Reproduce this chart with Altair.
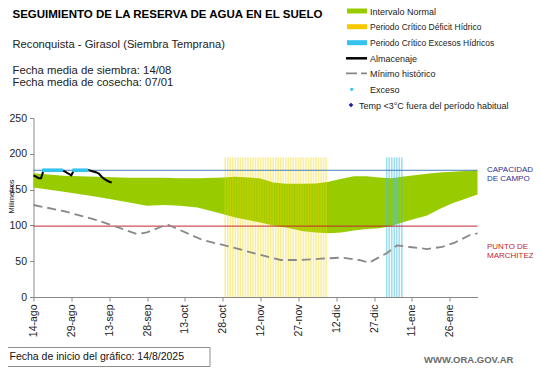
import altair as alt
import pandas as pd

# ---------------- data ----------------
tick_days = [0, 15, 30, 45, 60, 75, 90, 105, 120, 135, 150, 165]
tick_labels = ["14-ago", "29-ago", "13-sep", "28-sep", "13-oct", "28-oct",
               "12-nov", "27-nov", "12-dic", "27-dic", "11-ene", "26-ene"]
y_ticks = [0, 50, 100, 150, 200, 250]

# Intervalo normal (days since 14/08/2025)
band_day = [0, 12, 25, 38, 45, 52, 58, 65, 75, 80, 85, 90, 95, 100, 107, 112,
            117, 122, 127, 132, 137, 142, 146, 151, 156, 161, 166, 171, 176]
band_upper = [173, 169.5, 168, 166.5, 166.5, 166.5, 166, 166, 167, 168, 167,
              165.5, 160, 158, 158, 158.5, 161, 165, 168.5, 168.5, 167, 166,
              168, 170, 172, 174, 175, 176, 177]
band_lower = [153, 147, 140, 132, 127.6, 128.5, 127.6, 125, 116, 111, 107.5,
              104, 100, 97, 92, 90, 89, 90, 93, 95, 96, 99, 104, 109, 114, 123,
              131, 137, 143]

# Minimo historico
min_day = [0, 12, 25, 32, 41, 45, 53, 58, 67, 78, 89, 98, 106, 114, 122, 129,
           133, 140, 144, 150, 156, 162, 167, 173, 176]
min_val = [128.5, 120, 107.5, 99, 88, 90.3, 101.5, 93.6, 79.6, 70.3, 59.6,
           51.7, 51.7, 53.5, 55, 51.7, 48, 61, 72, 69.5, 67, 70, 76, 86.6, 89]

# Almacenaje
alm_day = list(range(0, 32))
alm_val = [170, 168, 166, 166, 177, 177, 177, 177, 177, 177, 177, 177, 176,
           174, 172, 170, 177, 177, 177, 177, 177, 177, 177, 176, 175, 174,
           172, 168, 165, 163, 161, 160]

# Exceso
exc_day = [4, 5, 6, 7, 8, 9, 10, 11, 16, 17, 18, 19, 20, 21]
exc_val = [177] * len(exc_day)

# Periodos criticos (daily bars)
deficit_days = list(range(76, 117))
exceso_days = list(range(140, 147))
bar_top = 195

capacidad = 177
marchitez = 99

# ---------------- layout constants ----------------
FONT = "Liberation Sans"
OX, OY = 33.5, 118      # page position of plot origin
W, H = 444, 179
TOTAL_W, TOTAL_H = 525, 360

band = pd.DataFrame({"d": band_day, "up": band_upper, "lo": band_lower})
mins = pd.DataFrame({"d": min_day, "v": min_val})
alm = pd.DataFrame({"d": alm_day, "v": alm_val})
exc = pd.DataFrame({"d": exc_day, "v": exc_val})
defi = pd.DataFrame({"d": deficit_days, "v": [bar_top] * len(deficit_days), "z": 0})
exce = pd.DataFrame({"d": exceso_days, "v": [bar_top] * len(exceso_days), "z": 0})
capdf = pd.DataFrame({"cap": [capacidad]})
mardf = pd.DataFrame({"mar": [marchitez]})
one = pd.DataFrame({"a": [0]})

label_js = "[" + ",".join("'" + s + "'" for s in tick_labels) + "]"

xs = alt.Scale(domain=[0, 176], nice=False, zero=False)
ys = alt.Scale(domain=[0, 250], nice=False)

xaxis = alt.Axis(values=tick_days, labelExpr=label_js + "[round(datum.value/15)]",
                 labelAngle=270, labelFontSize=10.5, labelFont=FONT,
                 labelColor="#222222", tickSize=4, tickColor="#888888",
                 domainColor="#888888", labelPadding=3, grid=False, title=None,
                 labelOverlap=False)
yaxis = alt.Axis(values=y_ticks, labelFontSize=10.5, labelOverlap=False,
                 labelFont=FONT, labelColor="#222222", tickSize=4,
                 tickColor="#888888", domainColor="#888888", labelPadding=3,
                 grid=False, title="Milimetros", titleFontSize=7.5,
                 titleFont=FONT, titleFontWeight="normal", titleColor="#222222",
                 titleX=-22, titleY=78, titleAngle=270, titleAlign="center",
                 titleBaseline="middle", labelFlush=False)


def XE(f="d"):
    return alt.X(f + ":Q", scale=xs, axis=xaxis)


def YE(f="v"):
    return alt.Y(f + ":Q", scale=ys, axis=yaxis)


area = alt.Chart(band).mark_area(color="#99CC00", opacity=1).encode(
    x=XE(), y=YE("up"), y2="lo:Q")

ybars = alt.Chart(defi).mark_rule(color="#F2D400", opacity=0.4, strokeWidth=1.6).encode(
    x=XE(), y=YE(), y2="z:Q")
cbars = alt.Chart(exce).mark_rule(color="#3FBFE6", opacity=0.5, strokeWidth=1.6).encode(
    x=XE(), y=YE(), y2="z:Q")

cap = alt.Chart(capdf).mark_rule(stroke="#4A7EBB", color="#4A7EBB", strokeWidth=1).encode(y=YE("cap"))
mar = alt.Chart(mardf).mark_rule(stroke="#C0282D", color="#C0282D", strokeWidth=1).encode(y=YE("mar"))

minl = alt.Chart(mins).mark_line(color="#888888", strokeWidth=1.8,
                                 strokeDash=[9, 5]).encode(x=XE(), y=YE())
alml = alt.Chart(alm).mark_line(color="#000000", strokeWidth=2).encode(x=XE(), y=YE())
exl = alt.Chart(exc).mark_circle(color="#33C3EE", size=16, opacity=1).encode(x=XE(), y=YE())


def T(txt, x, y, size=9, color="#222222", weight="normal", align="left", font=FONT):
    return alt.Chart(one).mark_text(align=align, baseline="middle", fontSize=size,
                                    color=color, fontWeight=weight, font=font, text=txt).encode(
        x=alt.value(x - OX), y=alt.value(y - OY))


def R(x1, x2, y, color, width, dash=None):
    kw = dict(color=color, strokeWidth=width)
    if dash:
        kw["strokeDash"] = dash
    return alt.Chart(one).mark_rule(**kw).encode(
        x=alt.value(x1 - OX), x2=alt.value(x2 - OX), y=alt.value(y - OY))


ann = [
    T("SEGUIMIENTO DE LA RESERVA DE AGUA EN EL SUELO", 12.5, 15, size=11.5, weight="bold", color="#000000"),
    T("Reconquista  - Girasol (Siembra Temprana)", 12.5, 45, size=11.2),
    T("Fecha media de siembra: 14/08", 12.5, 71, size=11.3),
    T("Fecha media de cosecha: 07/01", 12.5, 83, size=11.3),
    # legend
    R(347, 367, 11, "#99CC00", 5),
    T("Intervalo Normal", 370, 11.5),
    R(347, 367, 26.7, "#F5C800", 5),
    T("Periodo Crítico Déficit Hídrico", 370, 27.2, size=8.5),
    R(347, 367, 42.7, "#33C3EE", 5),
    T("Periodo Crítico Excesos Hídricos", 370, 43.2, size=8.5),
    R(346, 367, 58.3, "#000000", 2.5),
    T("Almacenaje", 370, 58.8),
    R(346, 367, 73.3, "#888888", 1.8, [11, 4]),
    T("Mínimo histórico", 370, 73.8),
    T("Exceso", 370, 89.8),
    T("Temp <3°C fuera del período habitual", 359, 105.5),
    # right labels
    T("CAPACIDAD", 487, 170, size=8, color="#2E3192"),
    T("DE  CAMPO", 487, 178.5, size=8, color="#2E3192"),
    T("PUNTO  DE", 487, 246.7, size=8, color="#C0282D"),
    T("MARCHITEZ", 487, 255.5, size=8, color="#C0282D"),
    # footer
    alt.Chart(one).mark_rect(fill="white", stroke="#8C8C8C", strokeWidth=1).encode(
        x=alt.value(3.5 - OX), x2=alt.value(210 - OX), y=alt.value(347.5 - OY), y2=alt.value(366.5 - OY)),
    T("Fecha de inicio del gráfico:  14/8/2025", 9.5, 357, size=10.5, color="#111111"),
    T("WWW.ORA.GOV.AR", 424, 360, size=9.5, weight="bold", color="#6B6B6B"),
]

dot = alt.Chart(one).mark_circle(color="#33C3EE", size=10, opacity=1).encode(
    x=alt.value(351.7 - OX), y=alt.value(89.3 - OY))
dia = alt.Chart(one).mark_point(shape="diamond", filled=True, size=22, color="#1F1F9A", opacity=1).encode(
    x=alt.value(351 - OX), y=alt.value(105 - OY))

chart = alt.layer(area, ybars, cbars, cap, mar, minl, alml, exl, *ann, dot, dia).properties(
    width=W, height=H,
    padding={"left": OX - 8, "top": OY - 8,
             "right": TOTAL_W - (OX - 8) - W, "bottom": TOTAL_H - (OY - 8) - H},
    background="white",
).configure(autosize=alt.AutoSizeParams(type="none")).configure_view(stroke=None)

chart.save("out.html", embed_options={"renderer": "svg", "actions": False})
